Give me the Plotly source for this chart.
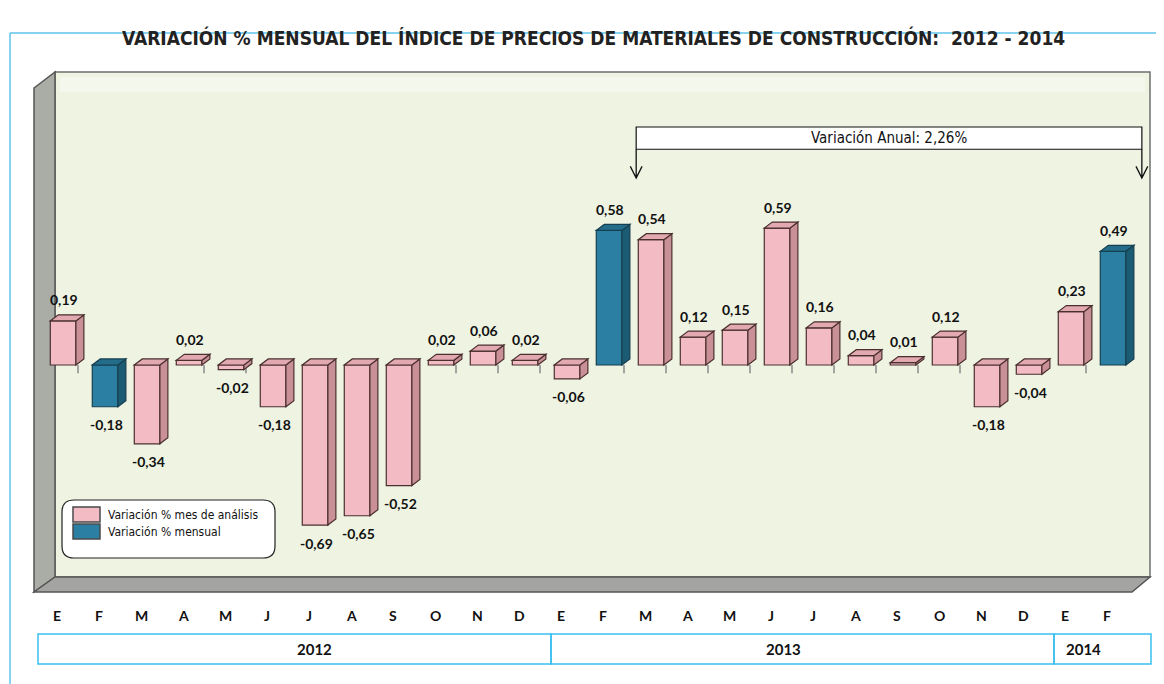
import plotly.graph_objects as go

# ---------------- data ----------------
months = ["E", "F", "M", "A", "M", "J", "J", "A", "S", "O", "N", "D",
          "E", "F", "M", "A", "M", "J", "J", "A", "S", "O", "N", "D",
          "E", "F"]
values = [0.19, -0.18, -0.34, 0.02, -0.02, -0.18, -0.69, -0.65, -0.52, 0.02, 0.06, 0.02,
          -0.06, 0.58, 0.54, 0.12, 0.15, 0.59, 0.16, 0.04, 0.01, 0.12, -0.18, -0.04,
          0.23, 0.49]
series_type = ["m", "b", "m", "m", "m", "m", "m", "m", "m", "m", "m", "m",
               "m", "b", "m", "m", "m", "m", "m", "m", "m", "m", "m", "m",
               "m", "b"]  # m = mes de análisis, b = mensual
years = ["2012", "2013", "2014"]
series_names = {"m": "Variación % mes de análisis", "b": "Variación % mensual"}
annual_text = "Variación Anual: 2,26%"

# ---------------- styling ----------------
PAGE_OFF = 8                       # browser body margin
W, H = 1164 - PAGE_OFF, 684 - PAGE_OFF
ML, MT = 36 - PAGE_OFF, 72 - PAGE_OFF
MR = W - (1149 - PAGE_OFF)
MB = H - (577 - PAGE_OFF)
PW, PH = W - ML - MR, H - MT - MB
FONT_N = "Liberation Sans Narrow, DejaVu Sans Condensed, Arial Narrow, sans-serif"
FONT_B = "Lato, Liberation Sans, Arial, sans-serif"

colors = {
    "m": dict(front="#f3bcc4", side="#c99097", top="#e2a9b0", line="#4a2f2f"),
    "b": dict(front="#2a7fa2", side="#1b5b73", top="#236c8a", line="#163f4f"),
}
BAR_W, BAR_OFF = 0.61, -0.16
DX, DY = 0.19, 0.026


def px(x):
    """reference-screen pixel x -> paper"""
    return (x - PAGE_OFF - ML) / PW


def py(y):
    """reference-screen pixel y -> paper"""
    return (H - MB - (y - PAGE_OFF)) / PH


fig = go.Figure()

# front faces
for key in ["m", "b"]:
    xs = [i for i, t in enumerate(series_type) if t == key]
    ys = [values[i] for i in xs]
    fig.add_trace(go.Bar(
        x=xs, y=ys, width=BAR_W, offset=BAR_OFF, name=series_names[key],
        marker=dict(color=colors[key]["front"], line=dict(color=colors[key]["line"], width=1.2)),
        hoverinfo="skip", showlegend=False))

shapes = []


def poly(pts, fill, line="#6b6b6b", lw=1.2, layer="below"):
    path = "M " + " L ".join(f"{px(a)},{py(b)}" for a, b in pts) + " Z"
    return dict(type="path", xref="paper", yref="paper", path=path, fillcolor=fill,
                line=dict(color=line, width=lw), layer=layer)


# 3D wall (decor)
shapes.append(poly([(55, 72), (1150, 72), (1150, 577), (55, 577)], "#eef3e2", "#6f6f6f", 1.5))
shapes.append(poly([(60, 77), (1145, 77), (1145, 92), (60, 92)], "#f3f7ec", "rgba(0,0,0,0)", 0))
shapes.append(poly([(34, 88), (55, 72), (55, 577), (34, 592)], "#a9ada5", "#555555", 1.5))
shapes.append(poly([(34, 592), (55, 577), (1150, 577), (1132, 592)], "#a4a5a3", "#555555", 1.5))

# outer light-blue frame
shapes.append(dict(type="line", xref="paper", yref="paper", x0=px(10), x1=px(1164), y0=py(33), y1=py(33),
                   line=dict(color="#5fc3ea", width=1.5), layer="below"))
shapes.append(dict(type="line", xref="paper", yref="paper", x0=px(10), x1=px(10), y0=py(33), y1=py(684),
                   line=dict(color="#5fc3ea", width=1.5), layer="below"))

# side & top faces of each bar
for i, (v, t) in enumerate(zip(values, series_type)):
    c = colors[t]
    x0 = i + BAR_OFF
    x1 = x0 + BAR_W
    top = max(v, 0)
    bot = min(v, 0)
    side = f"M {x1},{bot} L {x1},{top} L {x1 + DX},{top + DY} L {x1 + DX},{bot + DY} Z"
    topf = f"M {x0},{top} L {x1},{top} L {x1 + DX},{top + DY} L {x0 + DX},{top + DY} Z"
    for p, fc in [(side, c["side"]), (topf, c["top"])]:
        shapes.append(dict(type="path", xref="x", yref="y", path=p, fillcolor=fc,
                           line=dict(color=c["line"], width=1.2), layer="above"))

# zero-line ticks between categories
fig.add_trace(go.Scatter(
    x=[i + 0.5 for i in range(len(values) - 1)], y=[-0.018] * (len(values) - 1),
    mode="markers",
    marker=dict(symbol="line-ns-open", size=6, color="#8a8a8a", line=dict(color="#8a8a8a", width=1.5)),
    showlegend=False, hoverinfo="skip"))

annotations = []
# value labels
for i, v in enumerate(values):
    annotations.append(dict(
        x=i + 0.17, y=v, xref="x", yref="y", text="<b>" + f"{v:.2f}".replace(".", ",") + "</b>",
        showarrow=False, yshift=21 if v >= 0 else -18, yanchor="middle",
        font=dict(family=FONT_B, size=14, color="#111111")))

# annual variation bracket
ax0, ax1 = 13.79, 25.83
b_bot, b_top, tip = 0.93, 1.026, 0.806
shapes.append(dict(type="rect", xref="x", yref="y", x0=ax0, x1=ax1, y0=b_bot, y1=b_top,
                   fillcolor="white", line=dict(color="#111111", width=1.2), layer="above"))
ahx, ahy = 0.14, 0.05
for xa in [ax0, ax1]:
    shapes.append(dict(type="path", xref="x", yref="y",
                       path=(f"M {xa},{b_bot} L {xa},{tip} M {xa - ahx},{tip + ahy} L {xa},{tip} "
                             f"L {xa + ahx},{tip + ahy}"),
                       line=dict(color="#111111", width=1.3), layer="above"))
annotations.append(dict(x=(ax0 + ax1) / 2, y=(b_bot + b_top) / 2, xref="x", yref="y",
                        text=annual_text, showarrow=False, yanchor="middle",
                        font=dict(family=FONT_N, size=15, color="#111111")))

# legend (rounded box with swatches)
lx0, lx1, ly0, ly1, r = 62, 275, 500, 558, 12
rx, ry = r / PW, r / PH
X0, X1, Y0, Y1 = px(lx0), px(lx1), py(ly1), py(ly0)
lpath = (f"M {X0 + rx},{Y0} L {X1 - rx},{Y0} Q {X1},{Y0} {X1},{Y0 + ry} L {X1},{Y1 - ry} "
         f"Q {X1},{Y1} {X1 - rx},{Y1} L {X0 + rx},{Y1} Q {X0},{Y1} {X0},{Y1 - ry} "
         f"L {X0},{Y0 + ry} Q {X0},{Y0} {X0 + rx},{Y0} Z")
shapes.append(dict(type="path", xref="paper", yref="paper", path=lpath, fillcolor="white",
                   line=dict(color="#222222", width=1.2), layer="above"))
for k, key in enumerate(["m", "b"]):
    sy0 = 507 + 17 * k
    shapes.append(dict(type="rect", xref="paper", yref="paper", x0=px(73), x1=px(100),
                       y0=py(sy0 + 15), y1=py(sy0), fillcolor=colors[key]["front"],
                       line=dict(color="#4a4a4a", width=1.5), layer="above"))
    annotations.append(dict(x=px(106), y=py(sy0 + 8), xref="paper", yref="paper",
                            text=series_names[key], showarrow=False, xanchor="left", yanchor="middle",
                            font=dict(family=FONT_N, size=12, color="#111111")))

# year band
band_edges = [38, 551, 1054, 1151]
for a, b, yr in zip(band_edges[:-1], band_edges[1:], years):
    shapes.append(dict(type="rect", xref="paper", yref="paper", x0=px(a), x1=px(b), y0=py(664), y1=py(634),
                       line=dict(color="#39c0f0", width=1.5), fillcolor="rgba(0,0,0,0)"))
    annotations.append(dict(x=px((a + b) / 2), y=py(649), xref="paper", yref="paper", text=f"<b>{yr}</b>",
                            showarrow=False, yanchor="middle",
                            font=dict(family=FONT_B, size=15, color="#111111")))

# month labels
for i, m in enumerate(months):
    annotations.append(dict(x=i, y=py(615), xref="x", yref="paper", text=f"<b>{m}</b>",
                            showarrow=False, yanchor="middle",
                            font=dict(family=FONT_B, size=14, color="#111111")))

# title
annotations.append(dict(x=px(593), y=py(38), xref="paper", yref="paper",
                        text="<b>VARIACIÓN % MENSUAL DEL ÍNDICE DE PRECIOS DE MATERIALES DE CONSTRUCCIÓN:  2012 - 2014</b>",
                        showarrow=False, yanchor="middle",
                        font=dict(family=FONT_N, size=19, color="#222222")))

fig.update_layout(
    width=W, height=H,
    margin=dict(l=ML, r=MR, t=MT, b=MB),
    paper_bgcolor="white", plot_bgcolor="rgba(0,0,0,0)",
    barmode="overlay",
    shapes=shapes, annotations=annotations,
    showlegend=False,
    xaxis=dict(range=[-0.5, 26.0], showgrid=False, zeroline=False, showticklabels=False,
               ticks="", showline=False, fixedrange=True),
    yaxis=dict(range=[-0.914, 1.263], showgrid=False, zeroline=False, showticklabels=False,
               ticks="", showline=False, fixedrange=True),
)

fig.write_html("out.html")
